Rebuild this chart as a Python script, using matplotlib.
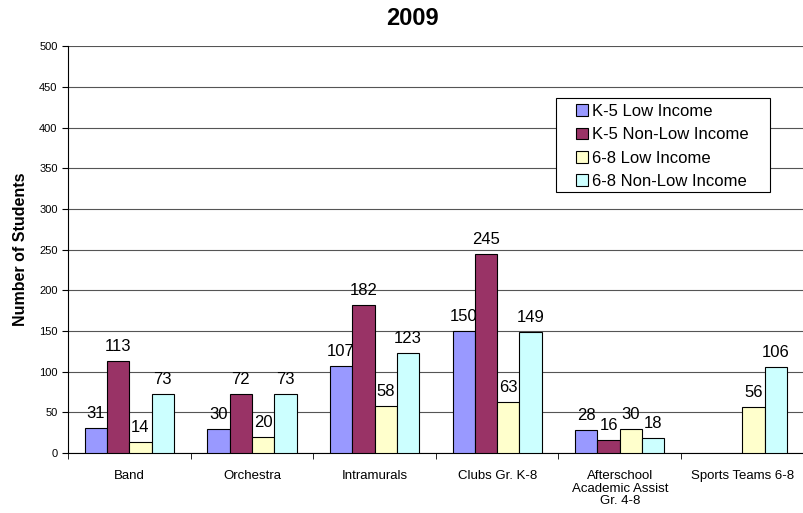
import numpy as np
import matplotlib
matplotlib.use("Agg")
import matplotlib.pyplot as plt
from matplotlib.patches import Rectangle

plt.rcParams["font.family"] = ["Liberation Sans", "DejaVu Sans"]

categories = ["Band", "Orchestra", "Intramurals", "Clubs Gr. K-8",
              "Afterschool\nAcademic Assist\nGr. 4-8", "Sports Teams 6-8"]
series_names = ["K-5 Low Income", "K-5 Non-Low Income", "6-8 Low Income", "6-8 Non-Low Income"]
k5_low = [31, 30, 107, 150, 28, None]
k5_non_low = [113, 72, 182, 245, 16, None]
g68_low = [14, 20, 58, 63, 30, 56]
g68_non_low = [73, 73, 123, 149, 18, 106]
colors = ["#9999FF", "#993366", "#FFFFCC", "#CCFFFF"]

W, H = 804, 513
fig = plt.figure(figsize=(W / 100, H / 100), dpi=100)
ax = fig.add_axes([0.0846, 0.117, 0.915, 0.793])

x = np.arange(len(categories))
bar_w = 0.182
all_series = [k5_low, k5_non_low, g68_low, g68_non_low]
for i, (vals, name, col) in enumerate(zip(all_series, series_names, colors)):
    offs = (i - 1.5) * bar_w
    xs = [xi + offs for xi, v in zip(x, vals) if v is not None]
    vs = [v for v in vals if v is not None]
    bars = ax.bar(xs, vs, width=bar_w, color=col, edgecolor="black",
                  linewidth=0.8, label=name, zorder=3)
    for b, v in zip(bars, vs):
        ax.annotate(str(v), (b.get_x() + b.get_width() / 2, v),
                    xytext=(0, 5), textcoords="offset points",
                    ha="center", va="bottom", fontsize=12, zorder=4)

ax.set_xlim(-0.5, len(categories) - 0.5)
ax.set_ylim(0, 500)
ax.set_yticks(np.arange(0, 501, 50))
ax.yaxis.grid(True, color="#555555", linewidth=0.8, zorder=0)
ax.set_axisbelow(True)
ax.set_xticks(x)
ax.set_xticklabels(categories, fontsize=9.5, linespacing=1.1)
ax.set_xticks(np.arange(-0.5, len(categories), 1), minor=True)
ax.tick_params(axis="x", which="major", length=0, pad=12)
ax.tick_params(axis="x", which="minor", length=4, direction="out")
ax.tick_params(axis="y", labelsize=8, length=4, direction="out")
for s in ["top", "right"]:
    ax.spines[s].set_visible(False)

ax.set_ylabel("Number of Students", fontsize=11.5, fontweight="bold")
ax.yaxis.set_label_coords(-0.0544, 0.5)
fig.text(0.513, 0.963, "2009", ha="center", va="center", fontsize=17, fontweight="bold")

# legend box drawn separately (wider padding like the original)
fig.patches.append(Rectangle((556 / W, 1 - 192 / H), 214 / W, 94 / H,
                             transform=fig.transFigure, facecolor="white",
                             edgecolor="black", linewidth=0.8, zorder=5))
leg = fig.legend(loc="upper left", bbox_to_anchor=(576 / W, 1 - 104 / H),
                 fontsize=12, frameon=False,
                 handlelength=0.7, handleheight=0.7, handletextpad=0.25,
                 labelspacing=0.5, borderpad=0, borderaxespad=0)
leg.set_zorder(6)

fig.savefig("out.png", dpi=100, facecolor="white")
